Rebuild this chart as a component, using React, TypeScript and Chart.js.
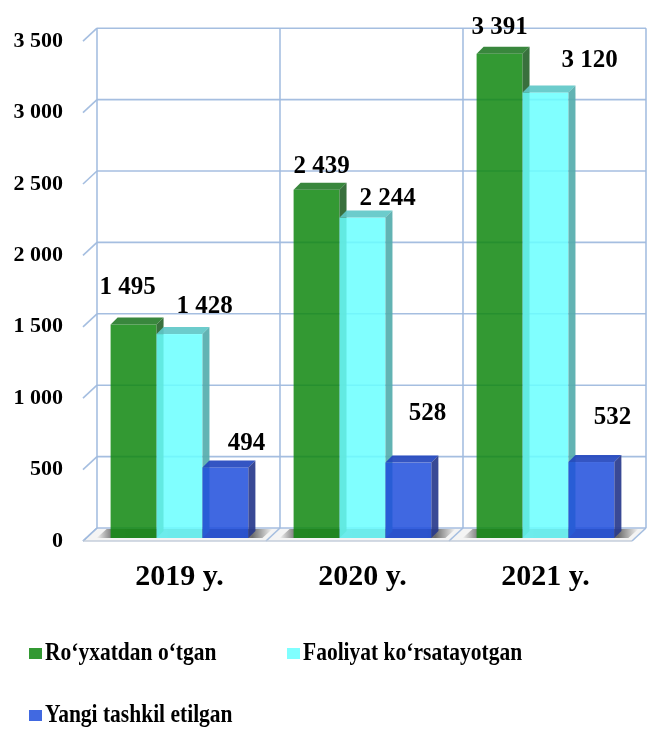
import { useEffect, useRef } from "react";
import { Chart, registerables } from "chart.js";

Chart.register(...registerables);

// ---------- data ----------
const categories = ["2019 y.", "2020 y.", "2021 y."];
const seriesNames = ["Ro‘yxatdan o‘tgan", "Faoliyat ko‘rsatayotgan", "Yangi tashkil etilgan"];
const registered = [1495, 2439, 3391];
const active = [1428, 2244, 3120];
const created = [494, 528, 532];
const yMax = 3500;
const yStep = 500;

// ---------- styles ----------
const FONT = "'Liberation Serif', 'Times New Roman', serif";
const legendColors = ["#339933", "#80ffff", "#4169e1"];
const frontColors = ["rgba(15,135,15,0.85)", "rgba(106,255,255,0.85)", "rgba(31,78,220,0.85)"];
const topColors = ["rgba(40,125,45,0.92)", "rgba(95,200,200,0.92)", "rgba(35,70,190,0.92)"];
const sideColors = ["rgba(40,100,45,0.92)", "rgba(85,172,172,0.92)", "rgba(40,58,140,0.92)"];
const GRID = "rgba(160,186,222,0.95)";
const DEPTH = 7;
const BACK = { dx: 9, dy: -10 };
const FRONTOFF = { dx: -5, dy: 3 };
// label placement relative to bar's front-top centre [dataset][category] = [dx, dy]
const labelOffsets = [
  [[-6, -37], [5, -23], [0, -26]],
  [[25, -28], [25, -19], [44, -32]],
  [[21, -24], [19, -49], [21, -44]],
];
const legendLayout = [
  { x: 29, baseline: 660 },
  { x: 287, baseline: 660 },
  { x: 29, baseline: 722 },
];

const fmt = (v: number) => String(v).replace(/\B(?=(\d{3})+(?!\d))/g, " ");

const threeD = {
  id: "threeD",
  beforeDatasetsDraw(chart: any) {
    const { ctx, chartArea, scales } = chart;
    const { left, right, top, bottom } = chartArea;
    const y = scales.y;
    const n = categories.length;
    const catW = (right - left) / n;
    ctx.save();
    const fy = bottom + FRONTOFF.dy;
    const by = bottom + BACK.dy;
    // floor
    ctx.beginPath();
    ctx.moveTo(left + FRONTOFF.dx, fy);
    ctx.lineTo(right + FRONTOFF.dx, fy);
    ctx.lineTo(right + BACK.dx, by);
    ctx.lineTo(left + BACK.dx, by);
    ctx.closePath();
    ctx.fillStyle = "#f4f4f4";
    ctx.fill();
    // floor shadows under groups
    const m0 = chart.getDatasetMeta(0);
    const m2 = chart.getDatasetMeta(chart.data.datasets.length - 1);
    for (let i = 0; i < n; i++) {
      const b0 = m0.data[i];
      const b2 = m2.data[i];
      const gl = b0.x - b0.width / 2;
      const gr = b2.x + b2.width / 2;
      const x0 = gl - 14;
      const x1 = gr + 24;
      const g = ctx.createLinearGradient(x0, 0, x1, 0);
      g.addColorStop(0, "rgba(0,0,0,0)");
      g.addColorStop((gl - x0) / (x1 - x0), "rgba(0,0,0,0.45)");
      g.addColorStop((gr + 4 - x0) / (x1 - x0), "rgba(0,0,0,0.55)");
      g.addColorStop(1, "rgba(0,0,0,0)");
      ctx.beginPath();
      ctx.moveTo(x0, bottom);
      ctx.lineTo(x1 - 10, bottom);
      ctx.lineTo(x1, by + 1);
      ctx.lineTo(x0 + 10, by + 1);
      ctx.closePath();
      ctx.fillStyle = g;
      ctx.fill();
    }
    // back wall grid
    ctx.strokeStyle = GRID;
    ctx.lineWidth = 1.6;
    for (let v = 0; v <= yMax; v += yStep) {
      const py = y.getPixelForValue(v);
      ctx.beginPath();
      ctx.moveTo(left + BACK.dx, py + BACK.dy);
      ctx.lineTo(right + BACK.dx, py + BACK.dy);
      ctx.stroke();
      ctx.beginPath();
      ctx.moveTo(left + FRONTOFF.dx, py + FRONTOFF.dy);
      ctx.lineTo(left + BACK.dx, py + BACK.dy);
      ctx.stroke();
    }
    for (let i = 0; i <= n; i++) {
      const px = left + i * catW;
      ctx.beginPath();
      ctx.moveTo(px + BACK.dx, top + BACK.dy);
      ctx.lineTo(px + BACK.dx, bottom + BACK.dy);
      ctx.stroke();
      ctx.beginPath();
      ctx.moveTo(px + FRONTOFF.dx, fy);
      ctx.lineTo(px + BACK.dx, by);
      ctx.stroke();
    }
    ctx.strokeStyle = "rgba(190,200,215,0.9)";
    ctx.beginPath();
    ctx.moveTo(left + FRONTOFF.dx, fy);
    ctx.lineTo(right + FRONTOFF.dx, fy);
    ctx.stroke();
    ctx.restore();
  },
  beforeDatasetDraw() {
    return false;
  },
  afterDatasetsDraw(chart: any) {
    const { ctx } = chart;
    ctx.save();
    const count = chart.data.datasets.length;
    for (let di = 0; di < count; di++) {
      const meta = chart.getDatasetMeta(di);
      meta.data.forEach((bar: any) => {
        const { x, y, base, width } = bar.getProps(["x", "y", "base", "width"], true);
        const l = x - width / 2;
        const r = x + width / 2;
        ctx.fillStyle = frontColors[di];
        ctx.fillRect(l, y, width, base - y);
        ctx.beginPath();
        ctx.moveTo(l, y);
        ctx.lineTo(l + DEPTH, y - DEPTH);
        ctx.lineTo(r + DEPTH, y - DEPTH);
        ctx.lineTo(r, y);
        ctx.closePath();
        ctx.fillStyle = topColors[di];
        ctx.fill();
        ctx.beginPath();
        ctx.moveTo(r, y);
        ctx.lineTo(r + DEPTH, y - DEPTH);
        ctx.lineTo(r + DEPTH, base - DEPTH);
        ctx.lineTo(r, base);
        ctx.closePath();
        ctx.fillStyle = sideColors[di];
        ctx.fill();
      });
    }
    // data labels
    ctx.fillStyle = "#000";
    ctx.font = `bold 25px ${FONT}`;
    ctx.textAlign = "center";
    ctx.textBaseline = "middle";
    for (let di = 0; di < count; di++) {
      const meta = chart.getDatasetMeta(di);
      const vals = chart.data.datasets[di].data as number[];
      meta.data.forEach((bar: any, i: number) => {
        const { x, y } = bar.getProps(["x", "y"], true);
        const [ox, oy] = labelOffsets[di][i];
        ctx.fillText(fmt(vals[i]), x + ox, y + oy);
      });
    }
    ctx.restore();
  },
  afterDraw(chart: any) {
    const { ctx } = chart;
    ctx.save();
    ctx.font = `bold 21.5px ${FONT}`;
    ctx.textAlign = "left";
    ctx.textBaseline = "alphabetic";
    seriesNames.forEach((name, i) => {
      const p = legendLayout[i];
      ctx.fillStyle = legendColors[i];
      ctx.fillRect(p.x, p.baseline - 12, 13, 11);
      ctx.fillStyle = "#000";
      ctx.save();
      ctx.translate(p.x + 16, p.baseline);
      ctx.scale(1, 1.18);
      ctx.fillText(name, 0, 0);
      ctx.restore();
    });
    ctx.restore();
  },
};

export default function App() {
  const ref = useRef<HTMLCanvasElement | null>(null);
  useEffect(() => {
    document.body.style.margin = "0";
    if (!ref.current) return;
    const chart = new Chart(ref.current, {
      type: "bar",
      data: {
        labels: categories,
        datasets: [
          { label: seriesNames[0], data: registered, backgroundColor: legendColors[0] },
          { label: seriesNames[1], data: active, backgroundColor: legendColors[1] },
          { label: seriesNames[2], data: created, backgroundColor: legendColors[2] },
        ],
      },
      options: {
        responsive: false,
        animation: false,
        events: [],
        datasets: { bar: { categoryPercentage: 0.753, barPercentage: 1 } },
        layout: { padding: { top: 35, right: 10, left: 0, bottom: 0 } },
        plugins: { legend: { display: false }, tooltip: { enabled: false } },
        scales: {
          x: {
            grid: { display: false, drawTicks: false },
            border: { display: false },
            ticks: { color: "#000", font: { family: FONT, weight: "bold", size: 30 }, padding: 21 },
            afterFit: (s: any) => {
              s.height = 191;
            },
          },
          y: {
            min: 0,
            max: yMax,
            grid: { display: false, drawTicks: false },
            border: { display: false },
            ticks: {
              stepSize: yStep,
              color: "#000",
              font: { family: FONT, weight: "bold", size: 22 },
              padding: 25,
              labelOffset: 3,
              callback: (v: any) => fmt(Number(v)),
            },
            afterFit: (s: any) => {
              s.width = 88;
            },
          },
        },
      },
      plugins: [threeD],
    });
    return () => chart.destroy();
  }, []);
  return (
    <div style={{ width: 647, height: 729, background: "#fff" }}>
      <canvas ref={ref} width={647} height={729} style={{ display: "block" }} />
    </div>
  );
}
